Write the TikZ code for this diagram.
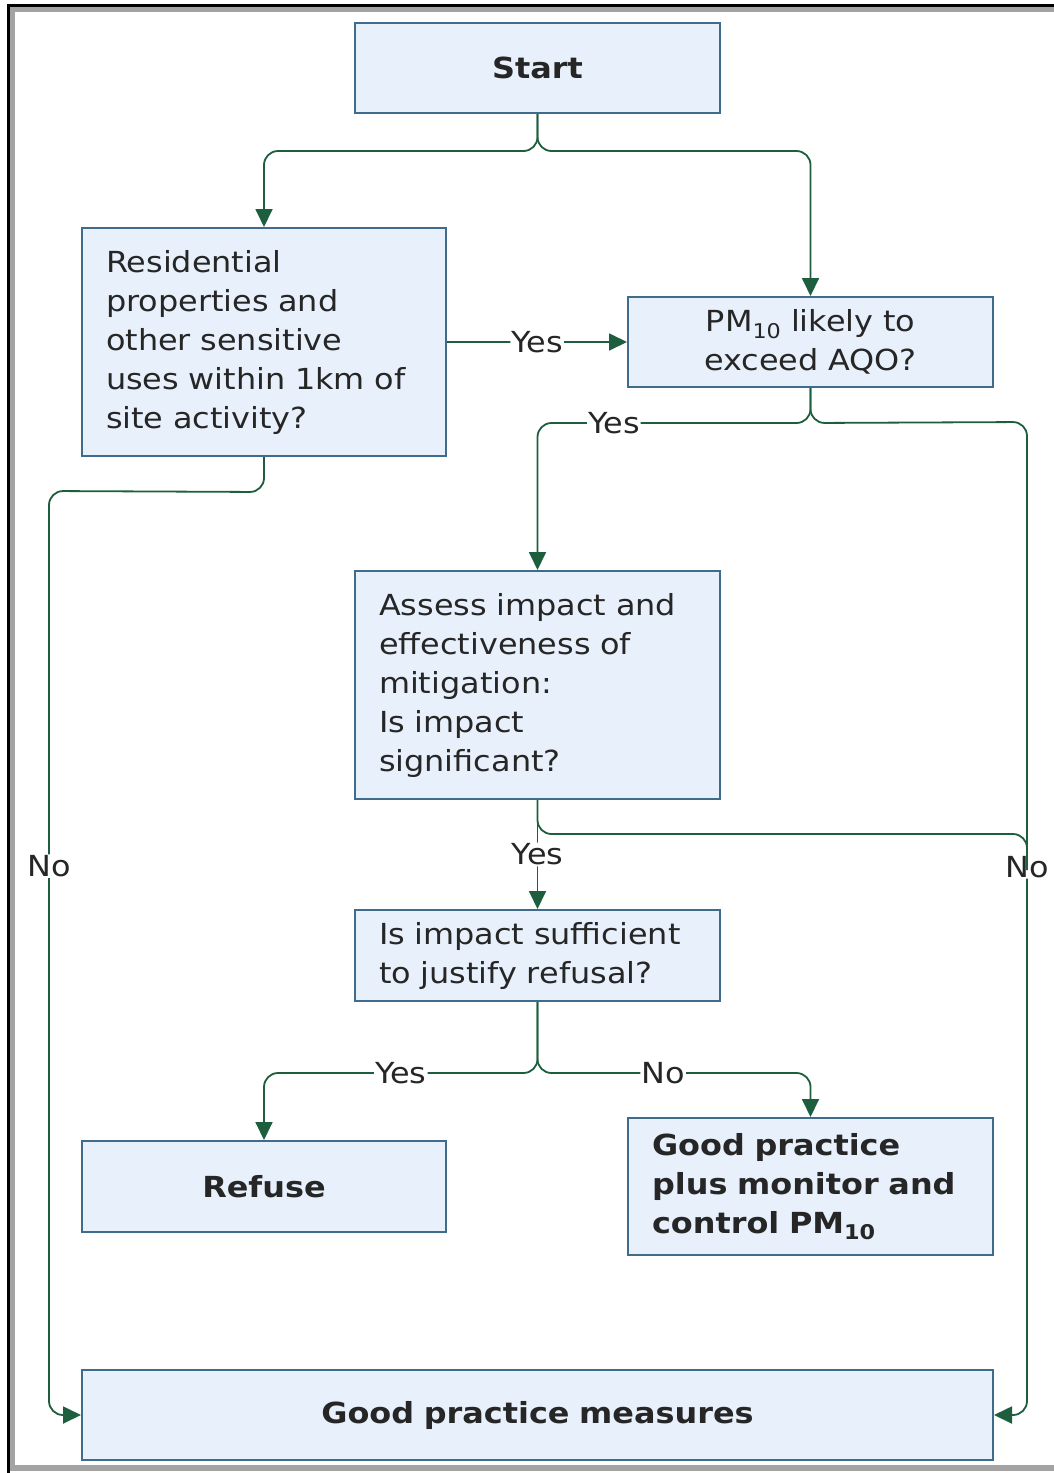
\documentclass[tikz,border=0pt]{standalone}
\usepackage{fontspec}
\setmainfont{DejaVu Sans}[FakeStretch=1.1]
\usepackage{xcolor}
\usepackage{tikz}
\usetikzlibrary{calc,positioning,arrows.meta}
\definecolor{BoxFill}{HTML}{E7F0FB}
\definecolor{BoxLine}{HTML}{3F6B8C}
\definecolor{FlowGreen}{HTML}{1D5E3E}
\definecolor{InkText}{HTML}{262626}
\definecolor{FrameGrey}{HTML}{A3A3A3}

\begin{document}
\begin{tikzpicture}[x=1pt,y=-1pt,
    stepbox/.style={draw=BoxLine, fill=BoxFill, line width=2pt, inner xsep=24pt, inner ysep=0pt,
        text=InkText, font=\fontsize{29}{39}\selectfont},
    leftbox/.style={stepbox, align=left},
    midbox/.style={stepbox, align=center},
    boldbox/.style={stepbox, align=center, font=\fontsize{29}{39}\selectfont\bfseries},
    flow/.style={draw=FlowGreen, line width=1.8pt, rounded corners=14pt,
        -{Triangle[length=18pt,width=17pt]}},
    branch/.style={draw=FlowGreen, line width=1.8pt, rounded corners=14pt},
    lbl/.style={fill=white, inner sep=1pt, text=InkText, font=\fontsize{29}{34}\selectfont}]

        \useasboundingbox (0,0) rectangle (1053,1473);
        \fill[white] (0,0) rectangle (1053,1473);

        % frame round the figure
        \draw[FrameGrey, line width=6.5pt] (12,9) rectangle (1075,1468);
        \draw[black, line width=3pt] (8,5) rectangle (1075,1485);

        % boxes
        \node[boldbox, text width=317pt, minimum height=90pt] (start) at (537.5,68) {Start};
        \node[leftbox, text width=316pt, minimum height=228pt] (resid) at (264,342)
            {Residential\\properties and\\other sensitive\\uses within 1km of\\site activity?};
        \node[midbox, text width=317pt, minimum height=90pt] (pm) at (810.5,342)
            {PM\textsubscript{10} likely to\\exceed AQO?};
        \node[leftbox, text width=317pt, minimum height=228pt] (assess) at (537.5,685)
            {Assess impact and\\effectiveness of\\mitigation:\\Is impact\\significant?};
        \node[leftbox, text width=317pt, minimum height=91pt] (suff) at (537.5,955.5)
            {Is impact sufficient\\to justify refusal?};
        \node[boldbox, text width=316pt, minimum height=91pt] (refuse) at (264,1186.5) {Refuse};
        \node[leftbox, text width=317pt, minimum height=137pt,
            font=\fontsize{29}{39}\selectfont\bfseries] (gp) at (810.5,1186.5)
            {Good practice\\plus monitor and\\control PM\textsubscript{10}};
        \node[boldbox, text width=863pt, minimum height=90pt] (gpm) at (537.5,1415)
            {Good practice measures};

        \coordinate (lft) at (49,491);
        \coordinate (rgt) at (1027,422);
        \coordinate (merge) at (1027,870);

        % connectors
        \draw[flow] (start.south) -- ++(0,37) -| (resid.north);
        \draw[flow] (start.south) -- ++(0,37) -| (pm.north);
        \draw[flow] (resid.east) -- node[lbl]{Yes} (pm.west);
        \draw[flow] (pm.south) -- ++(0,35) -| node[lbl, pos=0.36]{Yes} (assess.north);
        \draw[flow] (pm.south) -- ++(0,35) -- (rgt) |- node[lbl, pos=0.224]{No} (gpm.east);
        \draw[flow] (resid.south) -- ++(0,35) -- (lft) |- node[lbl, pos=0.203]{No} (gpm.west);
        \draw[flow] (assess.south) -- node[lbl]{Yes} (suff.north);
        \draw[branch] (assess.south) -- ++(0,34) -| (merge);
        \draw[flow] (suff.south) -- ++(0,71) -| node[lbl, pos=0.25]{Yes} (refuse.north);
        \draw[flow] (suff.south) -- ++(0,71) -| node[lbl, pos=0.23]{No} (gp.north);
    \end{tikzpicture}
\end{document}
